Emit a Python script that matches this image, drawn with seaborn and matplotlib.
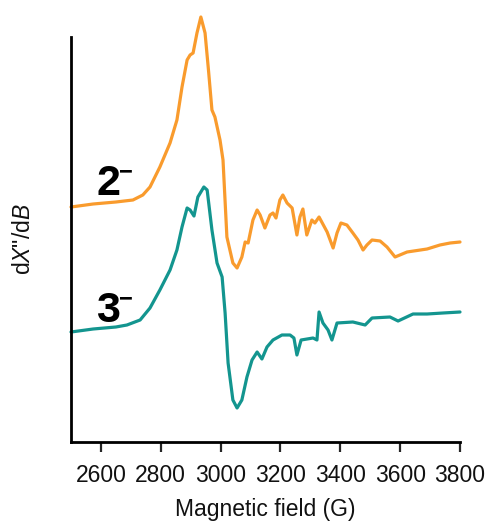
import matplotlib
matplotlib.use("Agg")
import matplotlib.pyplot as plt
import seaborn as sns
import pandas as pd

# Magnetic field (G) and signal (arb. units) for 2- (orange)
field_2 = [2500, 2574, 2650, 2707, 2740, 2764, 2797, 2831, 2854, 2871, 2888, 2898, 2908, 2921, 2934,
           2948, 2960, 2971, 2981, 2998, 3008, 3021, 3041, 3055, 3071, 3082, 3092, 3108,
           3122, 3132, 3148, 3165, 3175, 3185, 3198, 3208, 3222, 3239, 3255, 3265,
           3275, 3288, 3305, 3315, 3329, 3356, 3376, 3389, 3402, 3422, 3442, 3459,
           3476, 3489, 3506, 3533, 3556, 3583, 3623, 3690, 3733, 3767, 3800]
signal_2 = [235, 238, 240, 242, 247, 255, 275, 299, 322, 355, 382, 387, 389, 409, 425,
            409, 370, 332, 325, 302, 282, 205, 179, 174, 185, 200, 199, 222,
            232, 227, 214, 227, 229, 224, 242, 247, 239, 234, 207, 225,
            233, 207, 222, 219, 225, 210, 194, 209, 219, 217, 209, 202,
            192, 197, 202, 201, 195, 185, 190, 193, 197, 199, 200]

# Magnetic field (G) and signal (arb. units) for 3- (teal)
field_3 = [2500, 2574, 2650, 2687, 2731, 2764, 2797, 2831, 2854, 2871, 2888, 2898, 2911,
           2924, 2944, 2955, 2971, 2988, 3005, 3015, 3025, 3041, 3055, 3071, 3088,
           3105, 3122, 3138, 3155, 3175, 3205, 3232, 3245, 3255, 3269, 3309, 3322, 3329,
           3342, 3359, 3372, 3389, 3442, 3483, 3506, 3566, 3593, 3643, 3690, 3743,
           3800]
signal_3 = [110, 113, 115, 117, 122, 134, 152, 172, 192, 215, 234, 232, 226,
            245, 255, 252, 212, 179, 165, 129, 79, 42, 34, 42, 65,
            82, 90, 83, 95, 102, 107, 107, 104, 87, 102, 104, 102, 130,
            119, 112, 102, 119, 120, 117, 124, 125, 121, 128, 128, 129,
            130]

xticks = [2600, 2800, 3000, 3200, 3400, 3600, 3800]

sns.set_style("white")
plt.rcParams['font.family'] = ['Liberation Sans', 'DejaVu Sans']
plt.rcParams['mathtext.fontset'] = 'custom'
plt.rcParams['mathtext.rm'] = 'Liberation Sans'
plt.rcParams['mathtext.it'] = 'Liberation Sans:italic'

df2 = pd.DataFrame({"field": field_2, "signal": signal_2})
df3 = pd.DataFrame({"field": field_3, "signal": signal_3})

fig = plt.figure(figsize=(4.86, 5.24), dpi=100)
ax = fig.add_axes([71/486, 1 - 442/524, (460 - 71)/486, (442 - 37)/524])

sns.lineplot(data=df2, x="field", y="signal", ax=ax, color="#F99B2D", lw=2.3, sort=False, clip_on=False)
sns.lineplot(data=df3, x="field", y="signal", ax=ax, color="#13958F", lw=2.3, sort=False, clip_on=False)

ax.set_xlim(2500, 3800)
ax.set_ylim(0, 405)
ax.set_xticks(xticks)
ax.set_xticklabels([str(t) for t in xticks], fontsize=16.5, color='#111111')
ax.set_yticks([])
ax.tick_params(axis='x', direction='out', length=7, width=1.6, pad=9, bottom=True)
for s in ['top', 'right']:
    ax.spines[s].set_visible(False)
for s in ['left', 'bottom']:
    ax.spines[s].set_linewidth(2.0)
    ax.spines[s].set_color('black')

ax.set_xlabel("Magnetic field (G)", fontsize=16.5, labelpad=8, color='#111111')
ax.set_ylabel('d$\\mathit{X}$"/d$\\mathit{B}$', fontsize=16.5, labelpad=26, color='#111111')

lab_font = dict(family=['Liberation Sans', 'DejaVu Sans'],
                fontweight='bold', color='black')
ax.text(2585, 247, "2", fontsize=31, ha='left', va='baseline', **lab_font)
ax.text(2660, 270, "\u2212", fontsize=17, ha='left', va='center', **lab_font)
ax.text(2583, 120, "3", fontsize=31, ha='left', va='baseline', **lab_font)
ax.text(2660, 143, "\u2212", fontsize=17, ha='left', va='center', **lab_font)

fig.savefig("out.png", dpi=100)
